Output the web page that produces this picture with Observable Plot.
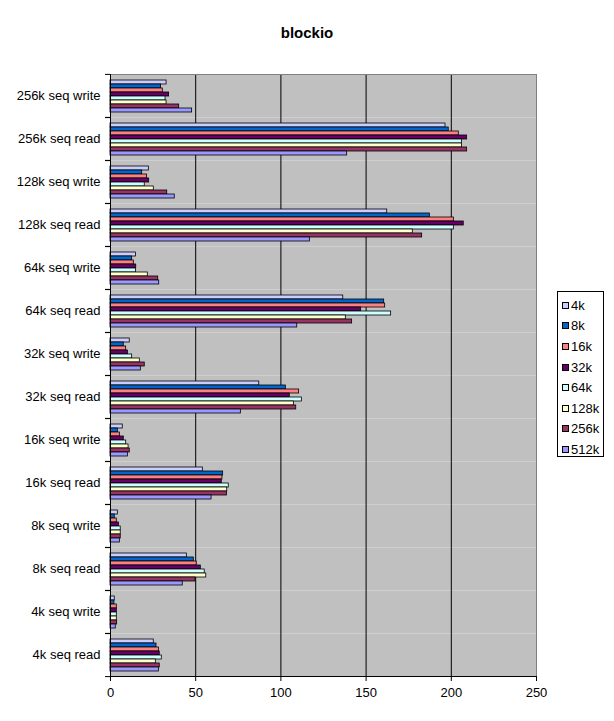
<!DOCTYPE html>
<html>
<head>
<meta charset="utf-8">
<script src="https://cdn.jsdelivr.net/npm/d3@7"></script>
<script src="https://cdn.jsdelivr.net/npm/@observablehq/plot@0.6"></script>
<style>
  body { margin: 0; background: white; font-family: "Liberation Sans", Arial, sans-serif; }
  #wrap { position: relative; width: 614px; height: 721px; overflow: hidden; }
  #title { height: 50px; width: 614px; text-align: center; font-weight: bold; font-size: 15px; line-height: 15px; padding-top: 0; box-sizing: border-box; }
  #title span { position: relative; top: 25px; }
  #legend { position: absolute; left: 557px; top: 291px; width: 47px; height: 166px; border: 1px solid black; background: white; box-sizing: border-box; padding-top: 3px; }
  .item { height: 20.6px; display: flex; align-items: center; font-size: 13px; white-space: nowrap; }
  .sw { width: 5px; height: 5px; border: 1px solid black; margin-left: 4px; margin-right: 2px; flex: none; }
</style>
</head>
<body>
<div id="wrap">
  <div id="title"><span>blockio</span></div>
  <div id="chart"></div>
  <div id="legend"></div>
</div>
<script>
const categories = ["256k seq write", "256k seq read", "128k seq write", "128k seq read", "64k seq write", "64k seq read", "32k seq write", "32k seq read", "16k seq write", "16k seq read", "8k seq write", "8k seq read", "4k seq write", "4k seq read"];
const seriesNames = ["4k", "8k", "16k", "32k", "64k", "128k", "256k", "512k"];
const s4k   = [32.9, 196.6, 22.5, 162.4, 14.9, 136.6, 11.3, 87.3, 7.2, 54.2, 4.3, 44.8, 2.5, 25.4];
const s8k   = [29.7, 198.5, 18.6, 187.4, 12.7, 160.6, 7.8, 102.9, 4.3, 66.1, 2.5, 48.9, 2.3, 27.0];
const s16k  = [30.7, 204.4, 21.5, 201.5, 13.7, 161.2, 9.2, 110.7, 5.5, 65.7, 3.7, 50.6, 3.7, 28.4];
const s32k  = [34.4, 209.3, 22.7, 207.3, 15.1, 147.1, 10.2, 105.2, 7.8, 65.3, 4.9, 53.0, 3.7, 28.9];
const s64k  = [32.3, 206.3, 20.1, 201.5, 14.9, 164.7, 12.7, 112.3, 9.2, 69.4, 6.0, 55.3, 3.7, 30.1];
const s128k = [32.9, 206.3, 25.4, 177.4, 21.9, 138.1, 17.2, 107.6, 10.6, 68.5, 6.0, 56.2, 3.7, 26.6];
const s256k = [40.3, 209.3, 33.3, 182.9, 28.0, 141.8, 20.1, 109.0, 11.3, 68.3, 6.0, 49.9, 3.9, 28.9];
const s512k = [47.9, 138.9, 37.7, 117.0, 28.6, 109.6, 17.8, 76.5, 10.2, 59.3, 5.5, 42.4, 3.1, 28.4];
const xTicks = [0, 50, 100, 150, 200, 250];
const gridValues = [50, 100, 150, 200];
const colors = ["#CCCCFF", "#0066CC", "#FF8080", "#660066", "#CCFFFF", "#FFFFCC", "#993366", "#9999FF"];

const seriesValues = [s4k, s8k, s16k, s32k, s64k, s128k, s256k, s512k];
const data = [];
categories.forEach((c, i) => {
  seriesNames.forEach((s, j) => data.push({category: c, series: s, value: seriesValues[j][i]}));
});

const W = 614, H = 671, mt = 22, mb = 44, ml = 110, mr = 78;
const band = (H - mt - mb) / categories.length;

const chart = Plot.plot({
  width: W, height: H,
  marginTop: mt, marginBottom: mb, marginLeft: ml, marginRight: mr,
  style: {fontFamily: "'Liberation Sans', Arial, sans-serif", fontSize: "13px", color: "black", background: "transparent"},
  x: {domain: [0, 250]},
  y: {domain: seriesNames, axis: null, paddingInner: 0, paddingOuter: 0.85},
  fy: {domain: categories, padding: 0},
  color: {domain: seriesNames, range: colors},
  marks: [
    Plot.frame({fill: "#C0C0C0"}),
    Plot.ruleX(gridValues, {stroke: "black", strokeWidth: 1}),
    Plot.barX(data, {x: "value", y: "series", fy: "category", fill: "series", stroke: "black", strokeWidth: 0.8}),
    Plot.ruleX([250], {stroke: "#808080", strokeWidth: 1}),
    Plot.frame({anchor: "top", facetAnchor: "top", stroke: "#808080"}),
    Plot.ruleX([0], {stroke: "black", strokeWidth: 1}),
    Plot.frame({anchor: "bottom", facetAnchor: "bottom", stroke: "black"}),
    Plot.axisX({ticks: xTicks, tickSize: 5, tickPadding: 6, label: null, fontSize: 13}),
    Plot.axisFy({anchor: "left", tickSize: 0, tickPadding: 10, label: null, fontSize: 13}),
    Plot.axisFy({anchor: "left", tickSize: 5, text: null, label: null, dy: -band / 2}),
    Plot.axisFy({anchor: "left", tickSize: 5, text: null, label: null, dy: band / 2})
  ]
});
document.getElementById("chart").appendChild(chart);

const legend = document.getElementById("legend");
seriesNames.forEach((s, i) => {
  const item = document.createElement("div");
  item.className = "item";
  const sw = document.createElement("div");
  sw.className = "sw";
  sw.style.background = colors[i];
  const t = document.createElement("span");
  t.textContent = s;
  item.appendChild(sw);
  item.appendChild(t);
  legend.appendChild(item);
});
</script>
</body>
</html>
